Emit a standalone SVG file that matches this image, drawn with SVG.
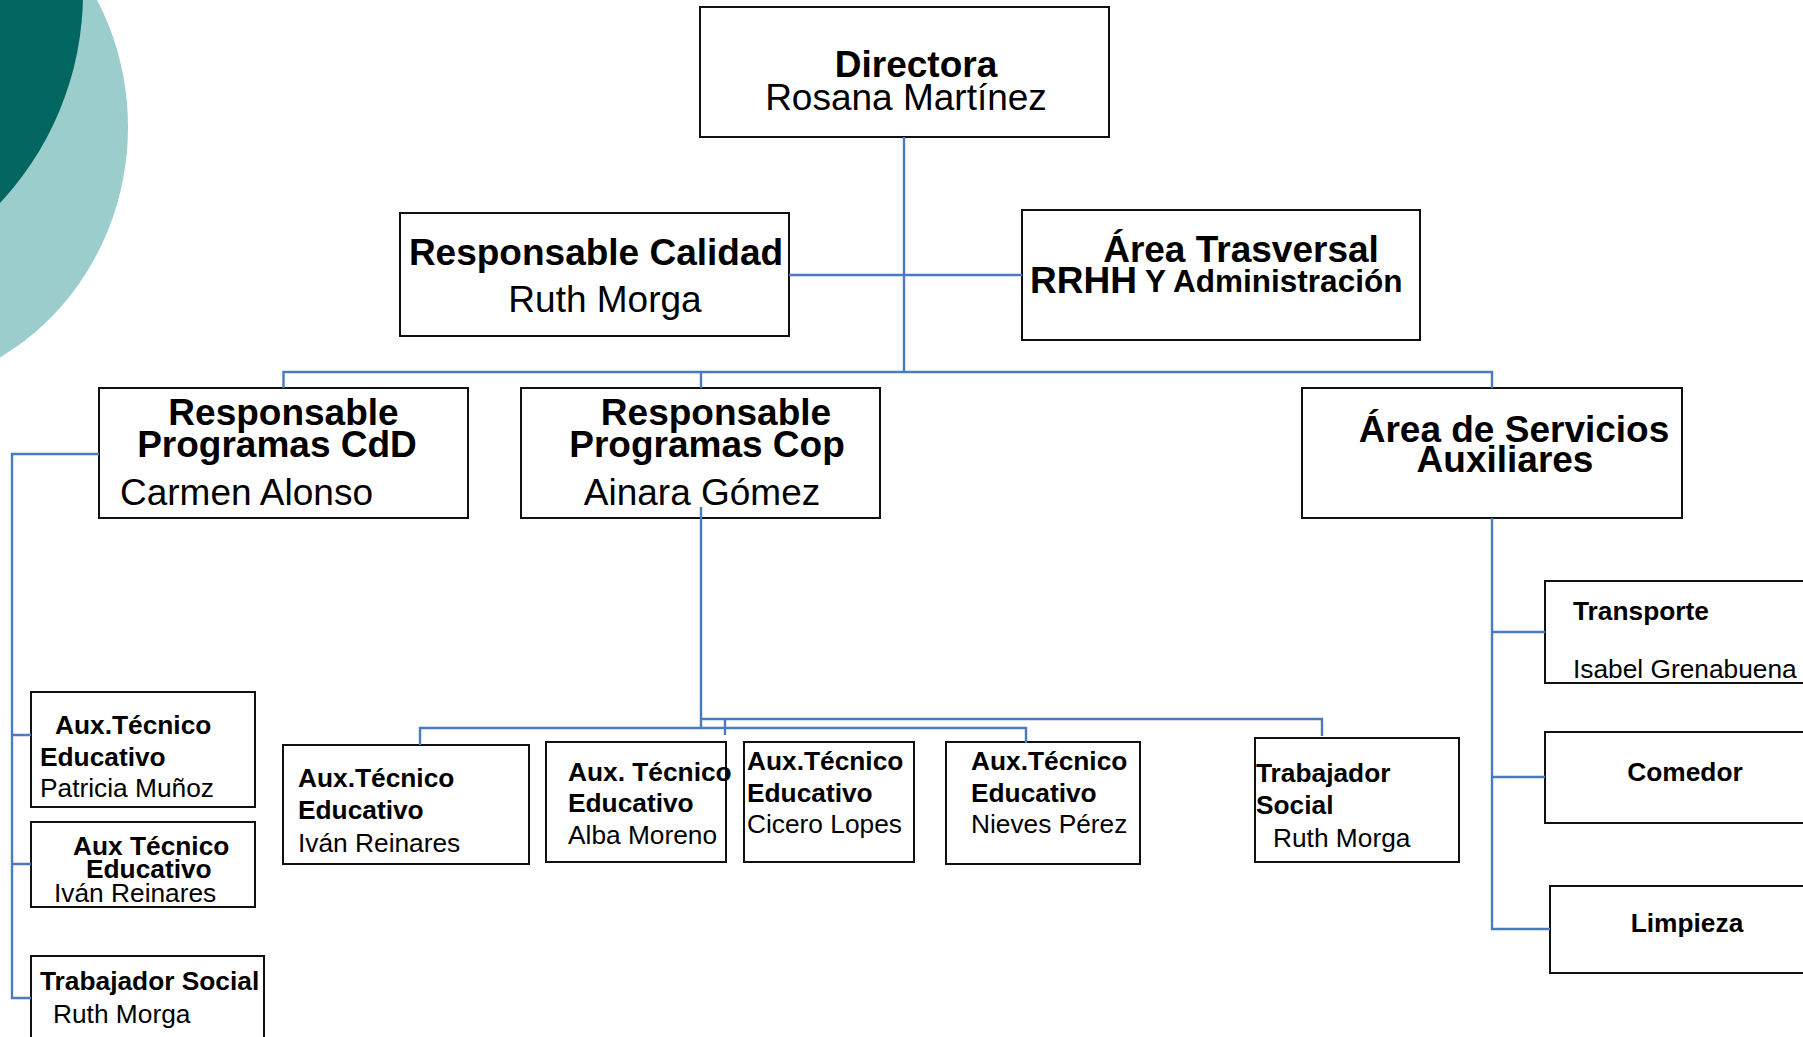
<svg xmlns="http://www.w3.org/2000/svg" width="1803" height="1037" viewBox="0 0 1803 1037">
<style>
.box{fill:#fff;stroke:#111;stroke-width:2}
text{font-family:"Liberation Sans",Arial,Helvetica,sans-serif;fill:#000}
.t1{font-size:37px;font-weight:bold}
.n1{font-size:37px}
.t2{font-size:26.3px;font-weight:bold}
.n2{font-size:26.3px}
.m{text-anchor:middle}
.conn{fill:none;stroke:#4a7bc1;stroke-width:2.4}
</style>
<g id="background">
<ellipse cx="-125" cy="127" rx="253" ry="265" fill="#9ccdcd"/>
<circle cx="-224" cy="-7" r="307" fill="#00665f"/>
</g>
<g id="directora">
<rect class="box" x="700" y="7" width="409" height="130"/>
<text class="t1 m" x="916" y="77">Directora</text>
<text class="n1 m" x="906" y="110">Rosana Martínez</text>
</g>
<g id="calidad">
<rect class="box" x="400" y="213" width="389" height="123"/>
<text class="t1 m" x="596" y="265">Responsable Calidad</text>
<text class="n1 m" x="605" y="312">Ruth Morga</text>
</g>
<g id="trasversal">
<rect class="box" x="1022" y="210" width="398" height="130"/>
<text class="t1 m" x="1241" y="262">Área Trasversal</text>
<text x="1030" y="293"><tspan class="t1">RRHH</tspan><tspan style="font-size:31.5px;font-weight:bold" dy="-1"> Y Administración</tspan></text>
</g>
<g id="cdd">
<rect class="box" x="99" y="388" width="369" height="130"/>
<text class="t1 m" x="283.5" y="425">Responsable</text>
<text class="t1 m" x="277" y="457">Programas CdD</text>
<text class="n1" x="120" y="505">Carmen Alonso</text>
</g>
<g id="cop">
<rect class="box" x="521" y="388" width="359" height="130"/>
<text class="t1 m" x="716" y="425">Responsable</text>
<text class="t1 m" x="707" y="457">Programas Cop</text>
<text class="n1 m" x="702" y="505">Ainara Gómez</text>
</g>
<g id="servicios">
<rect class="box" x="1302" y="388" width="380" height="130"/>
<text class="t1 m" x="1514" y="442">Área de Servicios</text>
<text class="t1 m" x="1505" y="472">Auxiliares</text>
</g>
<g id="cdd-aux1">
<rect class="box" x="31" y="692" width="224" height="115"/>
<text class="t2" x="55" y="734">Aux.Técnico</text>
<text class="t2" x="40" y="766">Educativo</text>
<text class="n2" x="40" y="797">Patricia Muñoz</text>
</g>
<g id="cdd-aux2">
<rect class="box" x="31" y="822" width="224" height="85"/>
<text class="t2" x="73" y="855">Aux Técnico</text>
<text class="t2" x="86" y="878">Educativo</text>
<text class="n2" x="54" y="902">Iván Reinares</text>
</g>
<g id="cdd-social">
<rect class="box" x="31" y="956" width="233" height="100"/>
<text class="t2" x="40" y="990">Trabajador Social</text>
<text class="n2" x="53" y="1023">Ruth Morga</text>
</g>
<g id="cop-ivan">
<rect class="box" x="283" y="745" width="246" height="119"/>
<text class="t2" x="298" y="787">Aux.Técnico</text>
<text class="t2" x="298" y="819">Educativo</text>
<text class="n2" x="298" y="852">Iván Reinares</text>
</g>
<g id="cop-alba">
<rect class="box" x="546" y="742" width="180" height="120"/>
<text class="t2" x="568" y="781">Aux. Técnico</text>
<text class="t2" x="568" y="812">Educativo</text>
<text class="n2" x="568" y="844">Alba Moreno</text>
</g>
<g id="cop-cicero">
<rect class="box" x="744" y="742" width="170" height="120"/>
<text class="t2" x="747" y="770">Aux.Técnico</text>
<text class="t2" x="747" y="802">Educativo</text>
<text class="n2" x="747" y="833">Cicero Lopes</text>
</g>
<g id="cop-nieves">
<rect class="box" x="946" y="742" width="194" height="122"/>
<text class="t2" x="971" y="770">Aux.Técnico</text>
<text class="t2" x="971" y="802">Educativo</text>
<text class="n2" x="971" y="833">Nieves Pérez</text>
</g>
<g id="cop-social">
<rect class="box" x="1255" y="738" width="204" height="124"/>
<text class="t2" x="1256" y="782">Trabajador</text>
<text class="t2" x="1256" y="814">Social</text>
<text class="n2" x="1273" y="847">Ruth Morga</text>
</g>
<g id="transporte">
<rect class="box" x="1545" y="581" width="280" height="102"/>
<text class="t2" x="1573" y="620">Transporte</text>
<text class="n2" x="1573" y="678">Isabel Grenabuena</text>
</g>
<g id="comedor">
<rect class="box" x="1545" y="732" width="280" height="91"/>
<text class="t2 m" x="1685" y="781">Comedor</text>
</g>
<g id="limpieza">
<rect class="box" x="1550" y="886" width="280" height="87"/>
<text class="t2 m" x="1687" y="932">Limpieza</text>
</g>
<g id="connectors">
<path class="conn" d="M904 137V372"/>
<path class="conn" d="M789 275H1022"/>
<path class="conn" d="M283.5 388V372H1492V388M701 372V388"/>
<path class="conn" d="M99 454H12V998H31M12 735H31M12 864H31"/>
<path class="conn" d="M701 507V728M420 745V728H1026V743M701 719H1322V736M725 719V735"/>
<path class="conn" d="M1492 518V929H1550M1492 632H1545M1492 777H1545"/>
</g>
</svg>
